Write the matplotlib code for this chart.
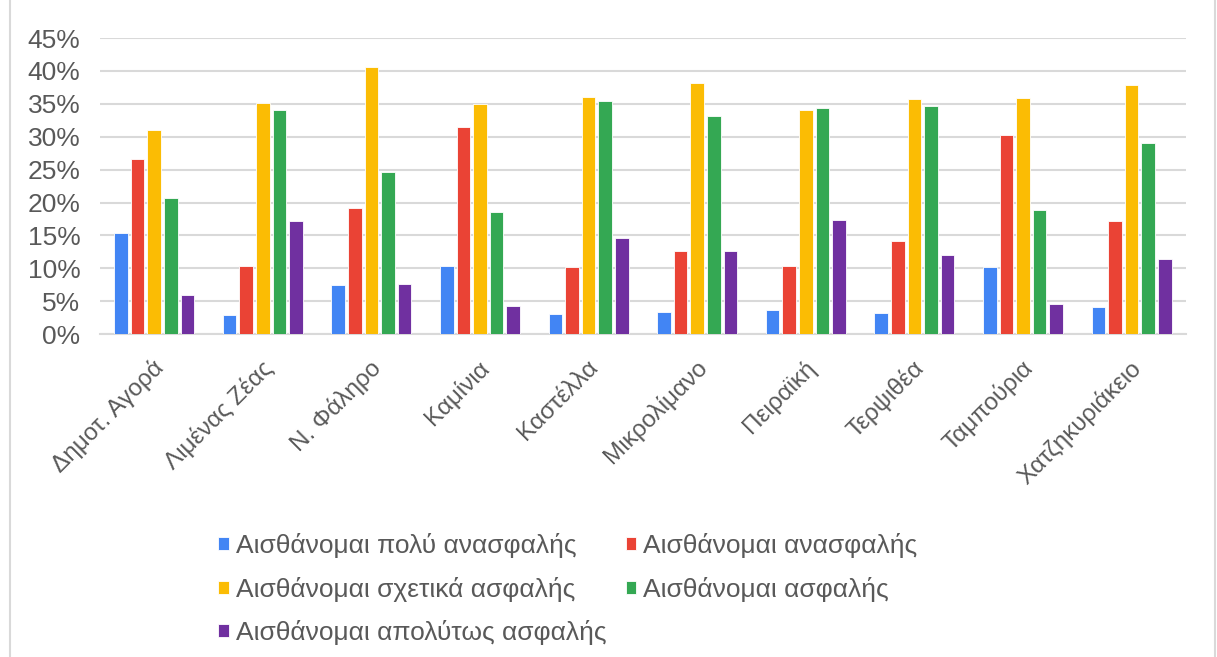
import numpy as np
import matplotlib.pyplot as plt
import matplotlib.transforms as mtransforms
from matplotlib.patches import Rectangle
from matplotlib.ticker import PercentFormatter

plt.rcParams['font.family'] = ['Liberation Sans', 'DejaVu Sans']

places = ['Δημοτ. Αγορά', 'Λιμένας Ζέας', 'Ν. Φάληρο', 'Καμίνια', 'Καστέλλα',
          'Μικρολίμανο', 'Πειραϊκή', 'Τερψιθέα', 'Ταμπούρια', 'Χατζηκυριάκειο']
series = ['Αισθάνομαι πολύ ανασφαλής', 'Αισθάνομαι ανασφαλής',
          'Αισθάνομαι σχετικά ασφαλής', 'Αισθάνομαι ασφαλής',
          'Αισθάνομαι απολύτως ασφαλής']
very_unsafe = [15.3, 2.9, 7.5, 10.3, 3.1, 3.3, 3.6, 3.2, 10.2, 4.1]
unsafe = [26.6, 10.3, 19.2, 31.5, 10.2, 12.6, 10.3, 14.1, 30.2, 17.2]
fairly_safe = [31.1, 35.1, 40.6, 35.0, 36.1, 38.1, 34.1, 35.7, 35.9, 37.9]
safe = [20.7, 34.1, 24.7, 18.5, 35.5, 33.1, 34.3, 34.6, 18.9, 29.1]
very_safe = [5.9, 17.2, 7.6, 4.3, 14.6, 12.6, 17.3, 12.0, 4.5, 11.4]
colors = ['#4285F4', '#EA4335', '#FBBC04', '#34A853', '#7030A0']

data = [very_unsafe, unsafe, fairly_safe, safe, very_safe]

fig = plt.figure(figsize=(12.17, 6.57), dpi=100)
ax = fig.add_axes([0.082, 0.4916, 0.8925, 0.4504])

x = np.arange(len(places))
step = 0.153
width = 0.125
handles = []
for i, (vals, col) in enumerate(zip(data, colors)):
    b = ax.bar(x + (i - 2) * step, vals, width, color=col, edgecolor='white',
               linewidth=0.6, label=series[i], zorder=3)
    handles.append(b)

ax.set_xlim(-0.5, len(places) - 0.5)
ax.set_ylim(0, 45)
ax.set_yticks(np.arange(0, 46, 5))
ax.yaxis.set_major_formatter(PercentFormatter(decimals=0))
ax.grid(axis='y', color='#d9d9d9', linewidth=1.5, zorder=0)
for s in ['top', 'right', 'left']:
    ax.spines[s].set_visible(False)
ax.spines['bottom'].set_color('#d9d9d9')
ax.spines['bottom'].set_linewidth(1.5)
ax.tick_params(length=0, labelsize=19, colors='#595959')
ax.tick_params(axis='y', pad=14)
ax.tick_params(axis='x', pad=16)
ax.set_xticks(x)
ax.set_xticklabels(places, rotation=45, ha='right', rotation_mode='anchor',
                   fontsize=17.5)
shift = mtransforms.ScaledTranslation(-2 / 100, 0, fig.dpi_scale_trans)
for lab in ax.get_xticklabels():
    lab.set_transform(lab.get_transform() + shift)

order = [0, 2, 4, 1, 3]
leg = fig.legend([handles[i] for i in order], [series[i] for i in order],
                 ncol=2, loc='lower left', bbox_to_anchor=(0.16, -0.018),
                 frameon=False, fontsize=19, handlelength=0.4,
                 handleheight=0.4, handletextpad=0.25, columnspacing=0.75,
                 labelspacing=0.7)
for t in leg.get_texts():
    t.set_color('#595959')

fig.patches.append(Rectangle((0.008, -0.01), 0.99, 1.2, transform=fig.transFigure,
                             fill=False, edgecolor='#d9d9d9', linewidth=1.5))

fig.savefig('out.png', dpi=100)
